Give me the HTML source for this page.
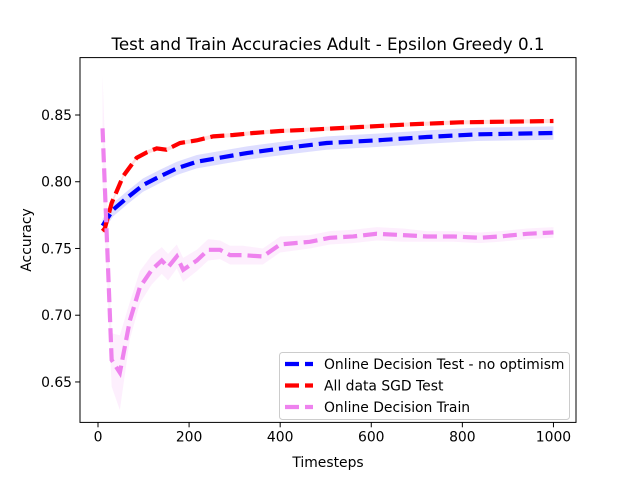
<!DOCTYPE html>
<html><head><meta charset="utf-8"><style>
body{margin:0;background:#fff}
svg text{font-family:"DejaVu Sans","Liberation Sans",sans-serif;fill:#000}
</style></head><body>
<svg id="chart" width="640" height="480" viewBox="0 0 640 480" xmlns="http://www.w3.org/2000/svg">
<rect width="640" height="480" fill="#fff"/>
<g id="plot"></g>
</svg>
<script>
const xsBlue=[10,33,64,99,136,173,217,268,327,393,428,502,612,722,832,1000];
const blueVals=[0.767,0.779,0.788,0.7975,0.804,0.810,0.815,0.818,0.8215,0.8245,0.826,0.829,0.831,0.8335,0.8355,0.8365];
const xsRed=[10,15,30,55,85,107,129,150,180,217,253,297,341,400,465,575,685,795,1000];
const redVals=[0.763,0.765,0.784,0.804,0.818,0.822,0.825,0.824,0.829,0.831,0.834,0.835,0.8365,0.838,0.839,0.841,0.843,0.8445,0.8455];
const xsPink=[10,30,48,70,92,118,140,154,173,187,217,242,268,290,318,362,400,465,509,560,612,670,722,780,838,882,942,1000];
const pinkVals=[0.840,0.6665,0.657,0.696,0.721,0.734,0.741,0.736,0.744,0.734,0.741,0.749,0.749,0.745,0.745,0.744,0.753,0.755,0.758,0.759,0.761,0.760,0.759,0.759,0.758,0.759,0.761,0.762];
const pinkBand=[0.04,0.02,0.028,0.014,0.012,0.011,0.010,0.010,0.009,0.009,0.008,0.008,0.007,0.007,0.007,0.006,0.006,0.005,0.005,0.005,0.005,0.005,0.004,0.004,0.004,0.004,0.004,0.004];
const blueBand=0.005, redBand=0.0015;
const xTicks=[0,200,400,600,800,1000];
const yTicks=[0.65,0.70,0.75,0.80,0.85];

const L=80,R=576,T=57.6,B=422.4;
const xmin=-39.5,xmax=1049.5,ymin=0.6197,ymax=0.8930;
const X=v=>L+(v-xmin)/(xmax-xmin)*(R-L);
const Y=v=>B-(v-ymin)/(ymax-ymin)*(B-T);
const g=document.getElementById('plot');
const NS='http://www.w3.org/2000/svg';
function mk(t,a,parent){const e=document.createElementNS(NS,t);for(const k in a)e.setAttribute(k,a[k]);(parent||g).appendChild(e);return e;}
function band(xs,vals,w,color,name){
  let up=xs.map((x,i)=>X(x)+','+Y(vals[i]+(Array.isArray(w)?w[i]:w)));
  let dn=xs.map((x,i)=>X(x)+','+Y(vals[i]-(Array.isArray(w)?w[i]:w))).reverse();
  const p=mk('polygon',{points:up.concat(dn).join(' '),fill:color,'fill-opacity':0.13,stroke:'none'});
  
  
}
function line(xs,vals,color,name){
  const p=mk('polyline',{points:xs.map((x,i)=>X(x)+','+Y(vals[i])).join(' '),fill:'none',stroke:color,'stroke-width':4.2,'stroke-dasharray':'14 6'});
  
  
}
band(xsBlue,blueVals,blueBand,'#0000ff','blue-band');
band(xsRed,redVals,redBand,'#ff0000','red-band');
band(xsPink,pinkVals,pinkBand,'#ee82ee','pink-band');
line(xsBlue,blueVals,'#0000ff','online-test-line');
line(xsRed,redVals,'#ff0000','sgd-test-line');
line(xsPink,pinkVals,'#ee82ee','online-train-line');

const frame=mk('rect',{x:L,y:T,width:R-L,height:B-T,fill:'none',stroke:'#000','stroke-width':1});


xTicks.forEach(t=>{
  mk('line',{x1:X(t),x2:X(t),y1:B,y2:B+4.9,stroke:'#000'});
  const tx=mk('text',{x:X(t),y:B+19,'text-anchor':'middle','font-size':13.9});
  tx.textContent=t;
  
  
});
yTicks.forEach(t=>{
  mk('line',{x1:L-4.9,x2:L,y1:Y(t),y2:Y(t),stroke:'#000'});
  const tx=mk('text',{x:L-8,y:Y(t)+5,'text-anchor':'end','font-size':13.9});
  tx.textContent=t.toFixed(2);
  
  
});
const title=mk('text',{x:(L+R)/2,y:50,'text-anchor':'middle','font-size':16.7});
title.textContent='Test and Train Accuracies Adult - Epsilon Greedy 0.1';


const xl=mk('text',{x:(L+R)/2,y:467,'text-anchor':'middle','font-size':13.9});
xl.textContent='Timesteps';


const yl=mk('text',{x:0,y:0,'text-anchor':'middle','font-size':13.9,transform:'translate(31,'+((T+B)/2)+') rotate(-90)'});
yl.textContent='Accuracy';



const lg=mk('g',{});


mk('rect',{x:279.5,y:352.5,width:290,height:67,rx:3,fill:'#fff','fill-opacity':0.8,stroke:'#ccc'},lg);
const entries=[['Online Decision Test - no optimism','#0000ff'],['All data SGD Test','#ff0000'],['Online Decision Train','#ee82ee']];
entries.forEach((e,i)=>{
  const y=364+i*21.5;
  mk('line',{x1:285,x2:313,y1:y,y2:y,stroke:e[1],'stroke-width':4.2,'stroke-dasharray':'14 6'},lg);
  const t=mk('text',{x:324,y:y+5,'font-size':13.9},lg);
  t.textContent=e[0];
  
  
});
</script>
</body></html>
